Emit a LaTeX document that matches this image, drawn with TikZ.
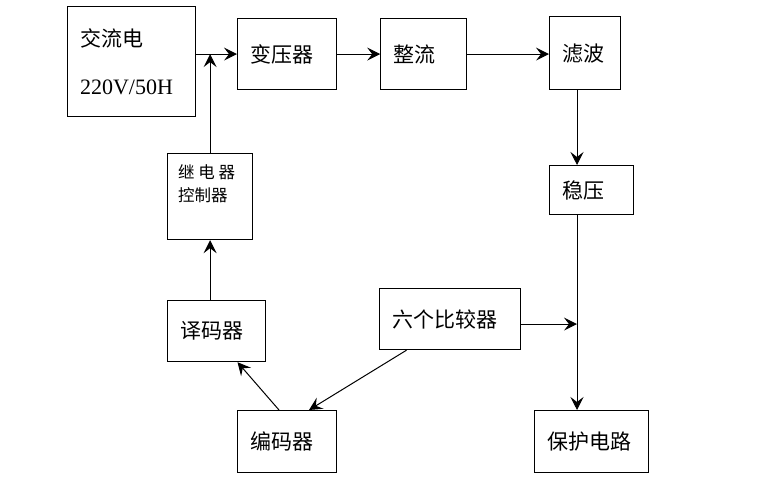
\documentclass[tikz,border=0pt]{standalone}
\usepackage{fontspec}
\setmainfont{Liberation Serif}
\newfontfamily\cjk{Noto Sans CJK SC}
\usetikzlibrary{arrows.meta,positioning}

\begin{document}
\begin{tikzpicture}[%
    x=1pt, y=-1pt,
    blk/.style={
        draw,
        line width=1.2pt,
        inner xsep=12.5pt,
        inner ysep=0pt,
        align=left,
        anchor=north west,
        font=\cjk\fontsize{21}{25}\selectfont
        },
    smalltext/.style={
        inner sep=0pt,
        align=left,
        anchor=north west,
        font=\cjk\fontsize{16.5}{23}\selectfont
        },
    arr/.style={-{Stealth[length=13pt, width=13pt, inset=5pt]}, line width=1pt}
]
\useasboundingbox (0,0) rectangle (774,490);

% upper chain
\node[blk, text width=103pt, minimum height=110pt] (ac) at (67,6) {交流电\\[23pt]{\rmfamily\fontsize{22}{25}\selectfont 220V/50H}};
\node[blk, text width=74pt, minimum height=71pt] (byq) at (237,18) {变压器};
\node[blk, text width=61pt, minimum height=71pt, right=43pt of byq] (zl) {整流};
\node[blk, text width=46pt, minimum height=73pt] (lb) at (549,16) {滤波};
\node[blk, text width=59pt, minimum height=49pt] (wy) at (549,165) {稳压};

% relay and codecs
\node[blk, text width=60pt, minimum height=86pt] (jdq) at (167,153) {};
\node[smalltext] (jdqt) at ([shift={(11pt,-11pt)}]jdq.north west) {继 电 器\\控制器};
\node[blk, text width=73pt, minimum height=61pt] (ymq) at (167,300) {译码器};
\node[blk, text width=116pt, minimum height=61pt] (bjq) at (379,288) {六个比较器};
\node[blk, text width=74pt, minimum height=62pt] (bmq) at (237,410) {编码器};
\node[blk, text width=89pt, minimum height=62pt] (bh) at (534,410) {保护电路};

\coordinate (bus) at ([xshift=43pt]bh.north west);
\coordinate (cmp) at ([yshift=-5pt]bjq.east);

\draw[arr] (ac.east |- byq.west) -- (byq.west);
\draw[arr] (jdq.north) -- (jdq.north |- byq.west);
\draw[arr] (byq) -- (zl);
\draw[arr] (zl.east) -- (zl.east -| lb.west);
\draw[arr] ([xshift=28pt]lb.south west) -- ([xshift=28pt]wy.north west);
\draw[arr] ([xshift=28pt]wy.south west) -- (bus);
\draw[arr] (cmp) -- (cmp -| bus);
\draw[arr] ([xshift=27.5pt]bjq.south west) -- ([xshift=72pt]bmq.north west);
\draw[arr] ([xshift=42pt]bmq.north west) -- ([xshift=70.5pt]ymq.south west);
\draw[arr] (ymq.north -| jdq.south) -- (jdq.south);

\end{tikzpicture}
\end{document}
